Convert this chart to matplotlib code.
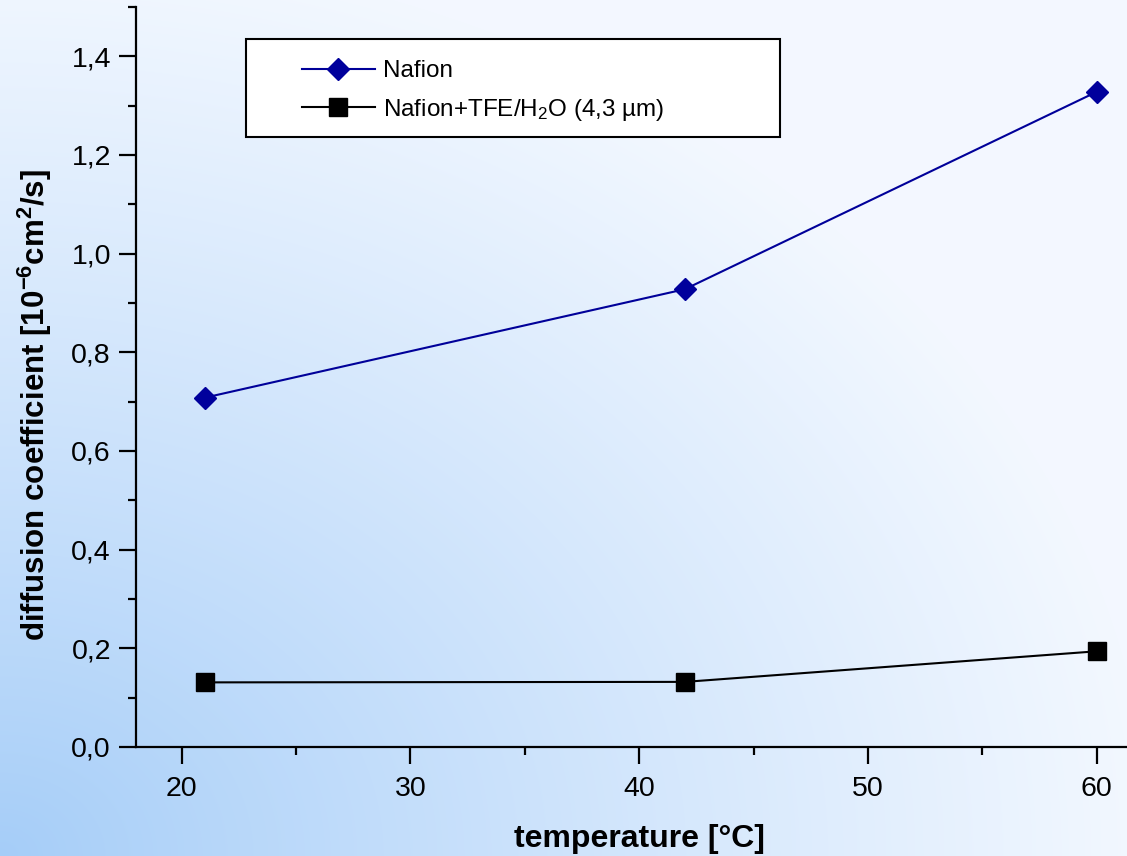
import numpy as np
import matplotlib
matplotlib.use("Agg")
import matplotlib.pyplot as plt
from matplotlib.patches import Rectangle
from matplotlib.ticker import MultipleLocator, FuncFormatter

plt.rcParams['font.family'] = ['Liberation Sans', 'DejaVu Sans']
plt.rcParams['mathtext.fontset'] = 'custom'
plt.rcParams['mathtext.rm'] = 'Liberation Sans'
plt.rcParams['mathtext.bf'] = 'Liberation Sans:bold'
plt.rcParams['mathtext.default'] = 'rm'

# data
temperature = [21, 42, 60]
nafion = [0.708, 0.928, 1.328]
nafion_tfe = [0.131, 0.132, 0.194]
labels = ["Nafion", "Nafion+TFE/H$_{2}$O (4,3 µm)"]
xlabel = "temperature [°C]"
ylabel = "diffusion coefficient [10$\\mathbf{^{-6}}$cm$\\mathbf{^{2}}$/s]"

W, H = 1127, 856
fig = plt.figure(figsize=(W / 100, H / 100), dpi=100)

# background gradient
bg = fig.add_axes([0, 0, 1, 1], zorder=-10)
yy, xx = np.mgrid[0:H, 0:W]
d = np.sqrt((xx / 1.15) ** 2 + ((H - 1 - yy) * 1.1) ** 2)
t = np.clip(d / 1000.0, 0, 1) ** 0.9
c0 = np.array([0xa5, 0xcd, 0xf8]) / 255.0
c1 = np.array([0xf3, 0xf8, 0xff]) / 255.0
img = c0[None, None, :] * (1 - t[..., None]) + c1[None, None, :] * t[..., None]
bg.imshow(img, aspect='auto', extent=[0, 1, 0, 1], origin='upper')
bg.set_axis_off()

ax = fig.add_axes([136 / W, (H - 747) / H, (1142.4 - 136) / W, (747 - 7) / H])
ax.patch.set_alpha(0)

ax.plot(temperature, nafion, color='#000099', lw=1.5, marker='D', ms=11.5,
        mfc='#00009c', mec='#00009c', label=labels[0])
ax.plot(temperature, nafion_tfe, color='black', lw=1.5, marker='s', ms=13.5,
        mfc='black', mec='black', label=labels[1])

ax.set_xlim(18, 62)
ax.set_ylim(0, 1.5)
ax.xaxis.set_major_locator(MultipleLocator(10))
ax.xaxis.set_minor_locator(MultipleLocator(5))
ax.yaxis.set_major_locator(MultipleLocator(0.2))
ax.yaxis.set_minor_locator(MultipleLocator(0.1))
ax.yaxis.set_major_formatter(FuncFormatter(lambda v, p: f"{v:.1f}".replace('.', ',')))

for s in ['top', 'right']:
    ax.spines[s].set_visible(False)
for s in ['left', 'bottom']:
    ax.spines[s].set_linewidth(1.6)

ax.tick_params(which='major', direction='out', length=12, width=1.6, labelsize=20.5)
ax.tick_params(axis='x', which='major', pad=9)
ax.tick_params(axis='y', which='major', pad=6)
ax.tick_params(which='minor', direction='out', length=6, width=1.6)

ax.set_xlabel(xlabel, fontsize=23, fontweight='bold', labelpad=16)
ax.set_ylabel(ylabel, fontsize=22.5, fontweight='bold')
ax.yaxis.set_label_coords(-0.081, 0.462)

# legend
fig.patches.append(Rectangle((246 / W, (H - 137) / H), (780 - 246) / W, (137 - 39) / H,
                             transform=fig.transFigure, facecolor='white',
                             edgecolor='black', lw=1.5, zorder=5))
leg = fig.legend(loc='upper left', bbox_to_anchor=(302 / W, (H - 60) / H),
                 frameon=False, fontsize=17.5, handlelength=3.0, handletextpad=0.35,
                 labelspacing=0.6, borderpad=0, borderaxespad=0)
leg.set_zorder(6)

fig.savefig('out.png', dpi=100)
